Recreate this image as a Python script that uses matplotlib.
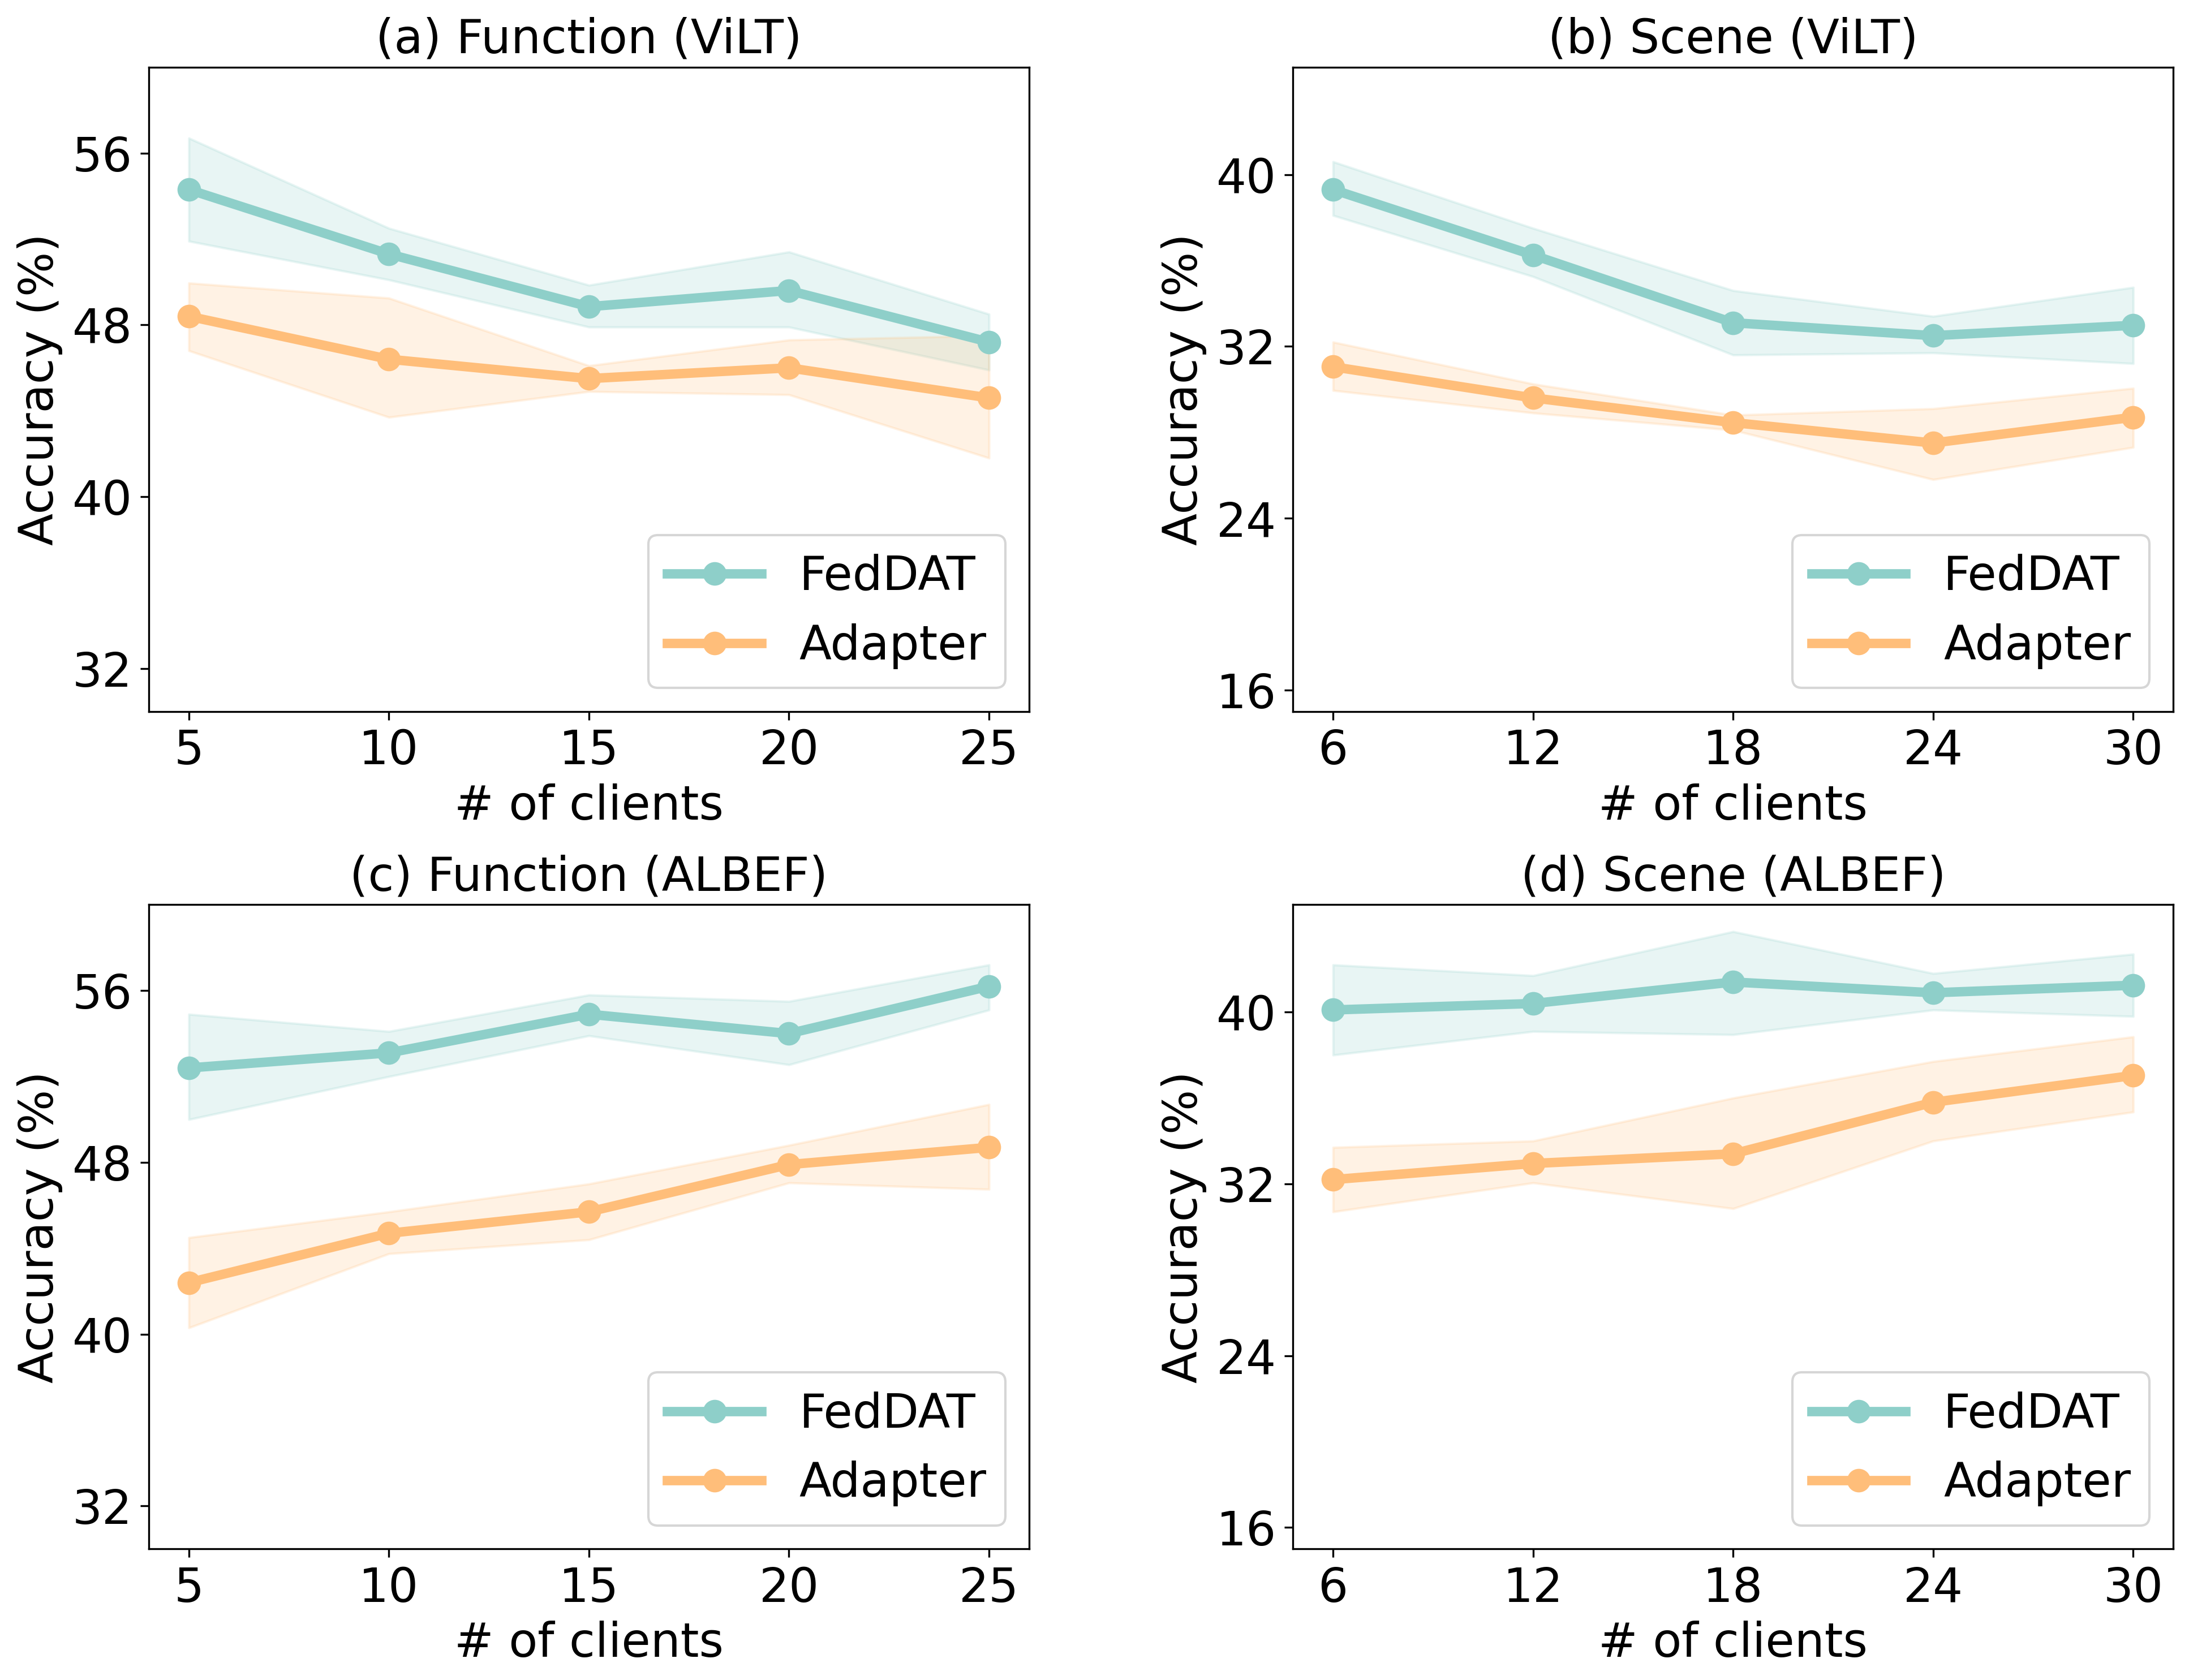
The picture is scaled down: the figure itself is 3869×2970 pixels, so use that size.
import numpy as np
import matplotlib
matplotlib.use('Agg')
import matplotlib.pyplot as plt

plt.rcParams['font.family'] = ['DejaVu Sans']
plt.rcParams['font.size'] = 20

# x values
clients_function = [5, 10, 15, 20, 25]
clients_scene = [6, 12, 18, 24, 30]

# (a) Function (ViLT)
a_feddat = [54.3, 51.3, 48.85, 49.6, 47.2]
a_feddat_hi = [56.7, 52.5, 49.85, 51.4, 48.5]
a_feddat_lo = [51.9, 50.1, 47.9, 47.9, 45.9]
a_adapter = [48.4, 46.4, 45.5, 46.0, 44.6]
a_adapter_hi = [49.95, 49.25, 46.1, 47.3, 47.5]
a_adapter_lo = [46.8, 43.7, 44.9, 44.75, 41.8]

# (b) Scene (ViLT)
b_feddat = [39.3, 36.25, 33.1, 32.5, 32.98]
b_feddat_hi = [40.6, 37.5, 34.6, 33.4, 34.75]
b_feddat_lo = [38.1, 35.25, 31.6, 31.7, 31.2]
b_adapter = [31.05, 29.6, 28.45, 27.5, 28.7]
b_adapter_hi = [32.2, 30.25, 28.8, 29.1, 30.05]
b_adapter_lo = [29.95, 28.9, 28.1, 25.8, 27.3]

# (c) Function (ALBEF)
c_feddat = [52.4, 53.1, 54.9, 54.0, 56.2]
c_feddat_hi = [54.9, 54.1, 55.8, 55.5, 57.2]
c_feddat_lo = [50.0, 52.0, 53.9, 52.55, 55.1]
c_adapter = [42.4, 44.7, 45.7, 47.9, 48.7]
c_adapter_hi = [44.5, 45.7, 47.0, 48.8, 50.7]
c_adapter_lo = [40.3, 43.75, 44.4, 47.05, 46.75]

# (d) Scene (ALBEF)
d_feddat = [40.1, 40.4, 41.4, 40.9, 41.25]
d_feddat_hi = [42.2, 41.7, 43.75, 41.8, 42.7]
d_feddat_lo = [38.0, 39.1, 38.95, 40.1, 39.8]
d_adapter = [32.2, 32.95, 33.4, 35.8, 37.05]
d_adapter_hi = [33.7, 34.0, 36.0, 37.7, 38.85]
d_adapter_lo = [30.7, 32.05, 30.85, 34.0, 35.35]

titles = ['(a) Function (ViLT)', '(b) Scene (ViLT)',
          '(c) Function (ALBEF)', '(d) Scene (ALBEF)']
function_yticks = [32, 40, 48, 56]
scene_yticks = [16, 24, 32, 40]

c_feddat_color = '#8ECFC9'
c_adapter_color = '#FFBE7A'

panels = [
    (clients_function, a_feddat, a_feddat_lo, a_feddat_hi, a_adapter, a_adapter_lo, a_adapter_hi, function_yticks, (30, 60)),
    (clients_scene, b_feddat, b_feddat_lo, b_feddat_hi, b_adapter, b_adapter_lo, b_adapter_hi, scene_yticks, (15, 45)),
    (clients_function, c_feddat, c_feddat_lo, c_feddat_hi, c_adapter, c_adapter_lo, c_adapter_hi, function_yticks, (30, 60)),
    (clients_scene, d_feddat, d_feddat_lo, d_feddat_hi, d_adapter, d_adapter_lo, d_adapter_hi, scene_yticks, (15, 45)),
]

fig, axes = plt.subplots(2, 2, figsize=(3869 / 300, 2970 / 300), dpi=300)
fig.subplots_adjust(left=0.068, right=0.9928, top=0.960, bottom=0.078, wspace=0.30, hspace=0.30)

for ax, title, p in zip(axes.flat, titles, panels):
    x, f, f_lo, f_hi, ad, ad_lo, ad_hi, yt, yl = p
    ax.plot(x, f, color=c_feddat_color, marker='o', linewidth=4, markersize=9, label='FedDAT')
    ax.fill_between(x, f_lo, f_hi, color=c_feddat_color, alpha=0.2)
    ax.plot(x, ad, color=c_adapter_color, marker='o', linewidth=4, markersize=9, label='Adapter')
    ax.fill_between(x, ad_lo, ad_hi, color=c_adapter_color, alpha=0.2)
    ax.set_xticks(x)
    ax.set_yticks(yt)
    ax.set_ylim(*yl)
    ax.set_title(title, fontsize=20)
    ax.set_xlabel('# of clients', fontsize=20)
    ax.set_ylabel('Accuracy (%)', fontsize=20)
    ax.tick_params(labelsize=20)
    ax.legend(loc='lower right', fontsize=20)

plt.savefig('out.png', dpi=300)
plt.close()
